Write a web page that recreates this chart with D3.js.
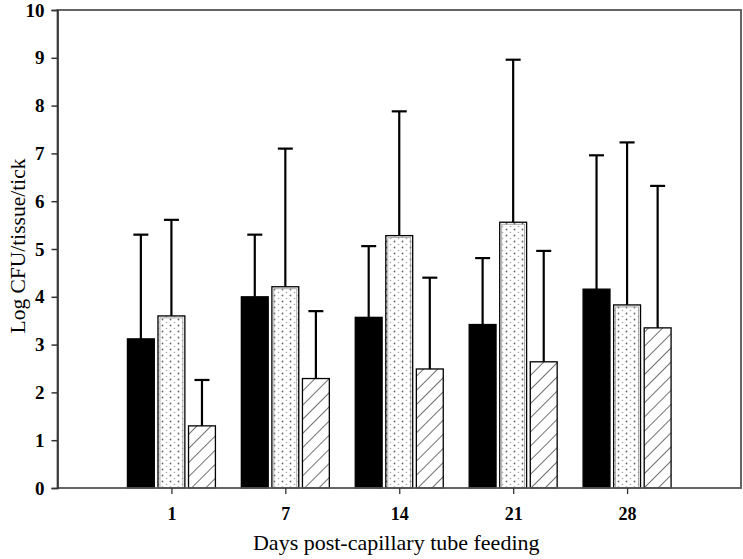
<!DOCTYPE html>
<html><head><meta charset="utf-8">
<script src="https://cdn.jsdelivr.net/npm/d3@7/dist/d3.min.js"></script>
<style>body{margin:0;background:#fff}svg{display:block}</style>
</head><body>
<svg id="c" width="743" height="559"></svg>
<script>
const categories = ["1", "7", "14", "21", "28"];
const seriesNames = ["black", "dotted", "hatched"];
const meanBlack   = [3.12, 4.00, 3.57, 3.42, 4.16];
const meanDotted  = [3.60, 4.21, 5.28, 5.56, 3.83];
const meanHatched = [1.30, 2.29, 2.49, 2.64, 3.35];
const upperBlack   = [5.30, 5.30, 5.06, 4.81, 6.96];
const upperDotted  = [5.61, 7.10, 7.88, 8.96, 7.23];
const upperHatched = [2.26, 3.70, 4.40, 4.96, 6.32];
const yTicks = [0,1,2,3,4,5,6,7,8,9,10];

const svg = d3.select("#c");
const L = 57.5, R = 741, T = 10, B = 488;
const x = d3.scalePoint().domain(categories).range([L, R]).padding(1);
const y = d3.scaleLinear().domain([0, 10]).range([B, T]);
const sub = d3.scaleBand().domain(seriesNames).range([-44, 44]).paddingInner(0.12);

const defs = svg.append("defs");
const dp = defs.append("pattern").attr("id","dots").attr("patternUnits","userSpaceOnUse")
  .attr("width",8).attr("height",6);
dp.append("rect").attr("width",8).attr("height",6).attr("fill","#fff");
dp.append("circle").attr("cx",2.5).attr("cy",1.5).attr("r",0.9).attr("fill","#666");
dp.append("circle").attr("cx",6.5).attr("cy",4.5).attr("r",0.8).attr("fill","#aaa");
const hp = defs.append("pattern").attr("id","hatch").attr("patternUnits","userSpaceOnUse")
  .attr("width",10).attr("height",10).attr("patternTransform","rotate(45)");
hp.append("rect").attr("width",10).attr("height",10).attr("fill","#fff");
hp.append("line").attr("x1",0).attr("y1",0).attr("x2",0).attr("y2",10).attr("stroke","#333").attr("stroke-width",1.4);

const fills = {black:"#000", dotted:"url(#dots)", hatched:"url(#hatch)"};
const means = {black:meanBlack, dotted:meanDotted, hatched:meanHatched};
const uppers = {black:upperBlack, dotted:upperDotted, hatched:upperHatched};

const rows = [];
seriesNames.forEach(s => categories.forEach((c,i) => rows.push({s, c, v: means[s][i], u: uppers[s][i]})));

// error bars (drawn behind bars)
const eg = svg.append("g").attr("stroke","#000").attr("stroke-width",2.2);
rows.forEach(d => {
  const cx = x(d.c) + sub(d.s) + sub.bandwidth()/2;
  eg.append("line").attr("x1",cx).attr("x2",cx).attr("y1",y(d.v)).attr("y2",y(d.u));
  eg.append("line").attr("x1",cx-7.5).attr("x2",cx+7.5).attr("y1",y(d.u)).attr("y2",y(d.u));
});

svg.append("g").selectAll("rect").data(rows).join("rect")
  .attr("x", d => x(d.c) + sub(d.s))
  .attr("width", sub.bandwidth())
  .attr("y", d => y(d.v))
  .attr("height", d => y(0) - y(d.v))
  .attr("fill", d => fills[d.s])
  .attr("stroke", "#000").attr("stroke-width", 1.3);
// inner outline for dotted bars
svg.append("g").selectAll("rect").data(rows.filter(d => d.s === "dotted")).join("rect")
  .attr("x", d => x(d.c) + sub(d.s) + 2)
  .attr("width", sub.bandwidth() - 4)
  .attr("y", d => y(d.v) + 2)
  .attr("height", d => y(0) - y(d.v) - 2)
  .attr("fill", "none").attr("stroke", "#999").attr("stroke-width", 0.8);

// frame
svg.append("rect").attr("x",L).attr("y",T).attr("width",R-L).attr("height",B-T)
  .attr("fill","none").attr("stroke","#555").attr("stroke-width",1.8);

const ya = svg.append("g").attr("transform",`translate(${L},0)`)
  .call(d3.axisLeft(y).tickValues(yTicks).tickSize(6).tickPadding(7).tickFormat(d3.format("d")));
ya.select(".domain").attr("stroke","#333").attr("stroke-width",1.6);
ya.selectAll(".tick line").attr("stroke","#333").attr("stroke-width",1.5);
ya.selectAll("text").attr("font-family","Liberation Serif").attr("font-weight","bold")
  .attr("font-size",19).attr("fill","#000");

const xa = svg.append("g").attr("transform",`translate(0,${B})`)
  .call(d3.axisBottom(x).tickSize(6).tickPadding(13));
xa.select(".domain").remove();
xa.selectAll(".tick line").attr("stroke","#333").attr("stroke-width",1.3);
xa.selectAll("text").attr("font-family","Liberation Serif").attr("font-weight","bold")
  .attr("font-size",18).attr("fill","#000");

svg.append("text").attr("x",(L+R)/2-3).attr("y",550).attr("text-anchor","middle")
  .attr("font-family","Liberation Serif").attr("font-size",22).text("Days post-capillary tube feeding");
svg.append("text").attr("transform",`translate(17,${(T+B)/2-3}) rotate(-90)`).attr("text-anchor","middle")
  .attr("dy","0.35em").attr("font-family","Liberation Serif").attr("font-size",21.5).text("Log CFU/tissue/tick");
</script>
</body></html>
